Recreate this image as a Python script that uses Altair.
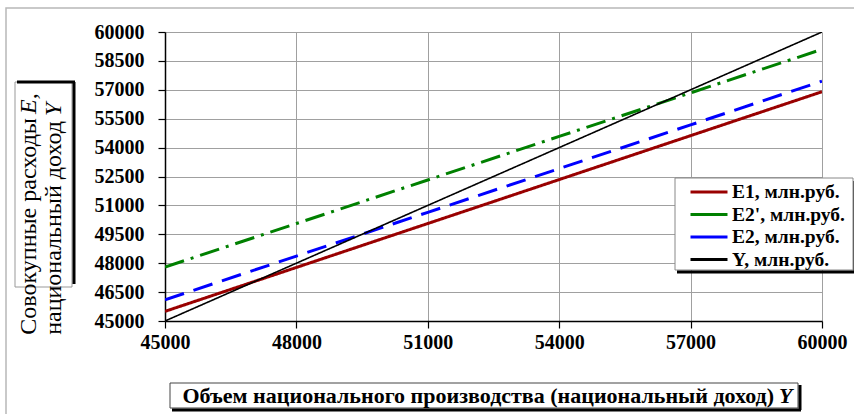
import altair as alt
import pandas as pd

# Output levels (national income Y), млн.руб.
x_vals = [45000, 48000, 51000, 54000, 57000, 60000]
# Aggregate expenditure series at each output level
e1_vals = [45500, 47780, 50060, 52340, 54620, 56900]
e2p_vals = [47800, 50060, 52320, 54580, 56840, 59100]
e2_vals = [46100, 48370, 50640, 52910, 55180, 57450]
y_vals = [45000, 48000, 51000, 54000, 57000, 60000]

series_names = ["E1, млн.руб.", "E2', млн.руб.", "E2, млн.руб.", "Y, млн.руб."]
series_colors = ["#990000", "#008000", "#0000ff", "#000000"]
series_dash = [[1, 0], [20, 7, 3, 7], [20, 10], [1, 0]]
series_width = [3, 3, 3, 1.6]
y_ticks = [45000, 46500, 48000, 49500, 51000, 52500, 54000, 55500, 57000, 58500, 60000]

rows = []
for name, sw, vals in zip(series_names, series_width,
                          [e1_vals, e2p_vals, e2_vals, y_vals]):
    for xv, yv in zip(x_vals, vals):
        rows.append({"x": xv, "value": yv, "series": name, "style": name, "sw": sw})
df = pd.DataFrame(rows)

W, H = 657, 289
SERIF = "Liberation Serif"

one = pd.DataFrame({"k": [0]})

x_enc = alt.X("x:Q",
              scale=alt.Scale(domain=[45000, 60000], nice=False, zero=False),
              axis=alt.Axis(values=x_vals, format="d", title=None, labelPadding=4,
                            labelFlush=False))
y_enc = alt.Y("value:Q",
              scale=alt.Scale(domain=[45000, 60000], nice=False, zero=False),
              axis=alt.Axis(values=y_ticks, format="d", title=None, labelPadding=14,
                            labelFlush=False))
color_scale = alt.Scale(domain=series_names, range=series_colors)

# the visible series lines (dashed styles, no legend of their own)
lines = alt.Chart(df).mark_line(clip=True).encode(
    x=x_enc, y=y_enc,
    color=alt.Color("series:N", scale=color_scale, legend=None),
    strokeDash=alt.StrokeDash("style:N",
                              scale=alt.Scale(domain=series_names, range=series_dash),
                              legend=None),
    strokeWidth=alt.StrokeWidth("sw:Q", scale=None, legend=None),
    order=alt.Order("x:Q"),
)

# zero-width copy that only supplies the solid-swatch legend
legend_src = alt.Chart(df).mark_line(clip=True, strokeWidth=0).encode(
    x=x_enc, y=y_enc,
    color=alt.Color("series:N", scale=color_scale,
                    legend=alt.Legend(orient="none", legendX=533, legendY=149,
                                      title=None, symbolType="M-2,0H2",
                                      symbolStrokeWidth=3, symbolSize=342,
                                      labelFont=SERIF, labelFontSize=19.5,
                                      labelFontWeight="bold", labelColor="black",
                                      labelOffset=12, labelLimit=0, padding=0,
                                      rowPadding=1.5)),
    order=alt.Order("x:Q"),
)


def box(x1, y1, x2, y2, stroke):
    return alt.Chart(one).mark_rect(fill="white", stroke=stroke, strokeWidth=1).encode(
        x=alt.value(x1), x2=alt.value(x2), y=alt.value(y1), y2=alt.value(y2))


def shade(x1, y1, x2, y2, w=3):
    return alt.Chart(one).mark_rule(color="black", strokeWidth=w).encode(
        x=alt.value(x1), x2=alt.value(x2), y=alt.value(y1), y2=alt.value(y2))


def label(txt, x, y, size, align, angle=0, weight="normal", style="normal"):
    return alt.Chart(one).mark_text(
        text=txt, font=SERIF, fontSize=size, fontWeight=weight, fontStyle=style,
        align=align, baseline="middle", angle=angle, color="black",
    ).encode(x=alt.value(x), y=alt.value(y))


# outer chart frame
frame = alt.Chart(one).mark_rect(fill=None, stroke="#b8b8b8", strokeWidth=1.5).encode(
    x=alt.value(-159), x2=alt.value(720), y=alt.value(-24), y2=alt.value(420))

# legend panel
legend_box = box(510, 146, 688, 238, "#888888")
legend_shadow = shade(512, 240, 700, 240) + shade(690, 149, 690, 240)

# y-axis title panel
ybox = box(-150, 50, -93, 255, "#999999")
yshadow = shade(-148, 50, -90, 50) + shade(-91, 50, -91, 252)
ytitle = (
    label("Совокупные расходы", -136, 86, 24, "right", angle=270)
    + label("E,", -136, 82, 24, "left", angle=270, style="italic")
    + label("национальный доход", -111, 89, 24, "right", angle=270)
    + label("Y", -111, 84, 24, "left", angle=270, style="italic")
)

# x-axis title panel
xbox = box(5, 351, 633, 376, "#444444")
xshadow = shade(7, 378, 636, 378) + shade(635, 353, 635, 378)
xtitle = (
    label("Объем национального производства (национальный доход)", 609, 364, 22,
          "right", weight="bold")
    + label("Y", 614, 364, 22, "left", weight="bold", style="italic")
)

chart = alt.layer(
    frame, lines, legend_src, legend_box, legend_shadow,
    ybox, yshadow, ytitle, xbox, xshadow, xtitle,
).resolve_scale(
    color="independent", strokeDash="independent"
).properties(
    width=W, height=H,
    autosize=alt.AutoSizeParams(type="none"),
    padding={"left": 165, "top": 32, "right": 32, "bottom": 93},
).configure_view(
    stroke=None
).configure_axis(
    labelFont=SERIF, labelFontSize=20, labelFontWeight="bold", labelColor="black",
    domainColor="black", domainWidth=1.5, tickColor="black", tickSize=7,
    tickWidth=1.2, gridColor="#a0a0a0", gridWidth=1, grid=True,
)

chart.save("out.html", embed_options={"renderer": "svg", "actions": False})
